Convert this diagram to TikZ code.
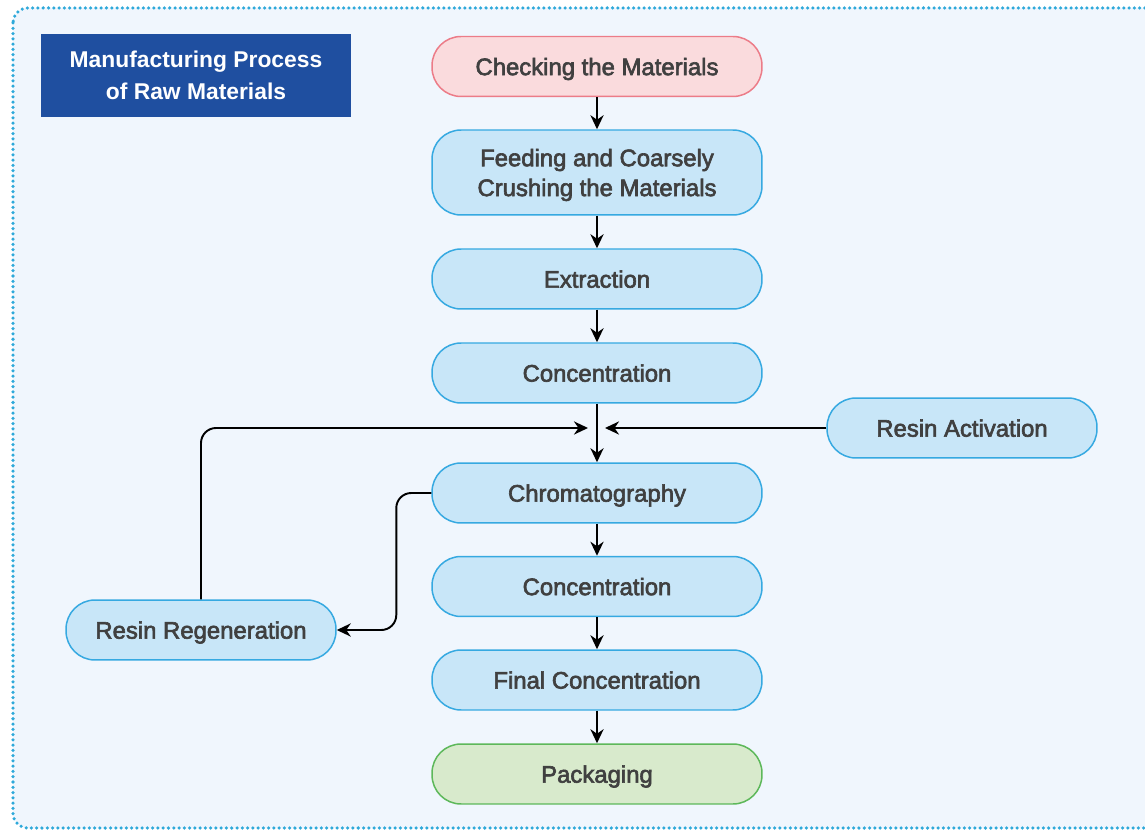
\documentclass[tikz,border=0pt]{standalone}
\usepackage{fontspec}
\setmainfont{Liberation Sans}
\newfontfamily\stagefont{Liberation Sans}[FakeBold=2.6]
\usetikzlibrary{arrows.meta}

\definecolor{pagefill}{HTML}{F0F6FD}
\definecolor{dotline}{HTML}{2EA9DA}
\definecolor{titlefill}{HTML}{1F4FA0}
\definecolor{textgray}{HTML}{404040}
\definecolor{stagefill}{HTML}{C8E6F8}
\definecolor{stageline}{HTML}{36A9E1}
\definecolor{checkfill}{HTML}{FADBDD}
\definecolor{checkline}{HTML}{EC7C88}
\definecolor{packfill}{HTML}{D8EACC}
\definecolor{packline}{HTML}{5DB85A}

\begin{document}
\begin{tikzpicture}[x=0.02cm, y=-0.02cm,
      every node/.style={font=\stagefont\fontsize{13.6}{17}\selectfont, text=textgray, align=center},
      stage/.style={draw=stageline, fill=stagefill, line width=0.85pt, text depth=0pt,
        rounded corners=0.58cm, minimum width=6.6cm, minimum height=1.2cm, inner sep=0pt},
      side/.style={stage, minimum width=5.4cm},
      flow/.style={draw=black, line width=1.1pt, -{Stealth[length=8pt, width=7.5pt]}},
      loop/.style={flow, rounded corners=0.3cm}]
  % canvas
  \useasboundingbox (0,0) rectangle (1145,830);
  \fill[white] (0,0) rectangle (1145,830);
  \draw[fill=pagefill, draw=dotline, line width=2pt, line cap=round,
        dash pattern=on 0pt off 3pt, rounded corners=0.3cm]
    (13,8) rectangle (1165,828);

  % title
  \node[fill=titlefill, text=white, font=\bfseries\fontsize{13}{18}\selectfont,
        minimum width=6.22cm, minimum height=1.66cm] (title) at (196,75.5)
    {Manufacturing Process\\of Raw Materials};

  % main column
  \node[stage, draw=checkline, fill=checkfill] (check) at (597,66.5) {Checking the Materials};
  \node[stage, minimum height=1.7cm] (feed) at (597,172.5) {Feeding and Coarsely\\Crushing the Materials};
  \node[stage] (extract) at (597,279) {Extraction};
  \node[stage] (conc1) at (597,373) {Concentration};
  \node[stage] (chrom) at (597,493) {Chromatography};
  \node[stage] (conc2) at (597,586.5) {Concentration};
  \node[stage] (final) at (597,680) {Final Concentration};
  \node[stage, draw=packline, fill=packfill] (pack) at (597,774) {Packaging};

  % side stages
  \node[side] (activ) at (962,428) {Resin Activation};
  \node[side] (regen) at (201,630) {Resin Regeneration};

  \coordinate (join) at (597,428);

  % connectors
  \draw[flow] (check) -- (feed);
  \draw[flow] (feed) -- (extract);
  \draw[flow] (extract) -- (conc1);
  \draw[flow] (conc1) -- (chrom);
  \draw[flow] (chrom) -- (conc2);
  \draw[flow] (conc2) -- (final);
  \draw[flow] (final) -- (pack);
  \draw[flow] (activ) -- ([xshift=0.16cm]join);
  \draw[loop] (regen.north) |- ([xshift=-0.18cm]join);
  \draw[loop] (chrom.west) -- ++(-35,0) |- (regen.east);
\end{tikzpicture}
\end{document}
